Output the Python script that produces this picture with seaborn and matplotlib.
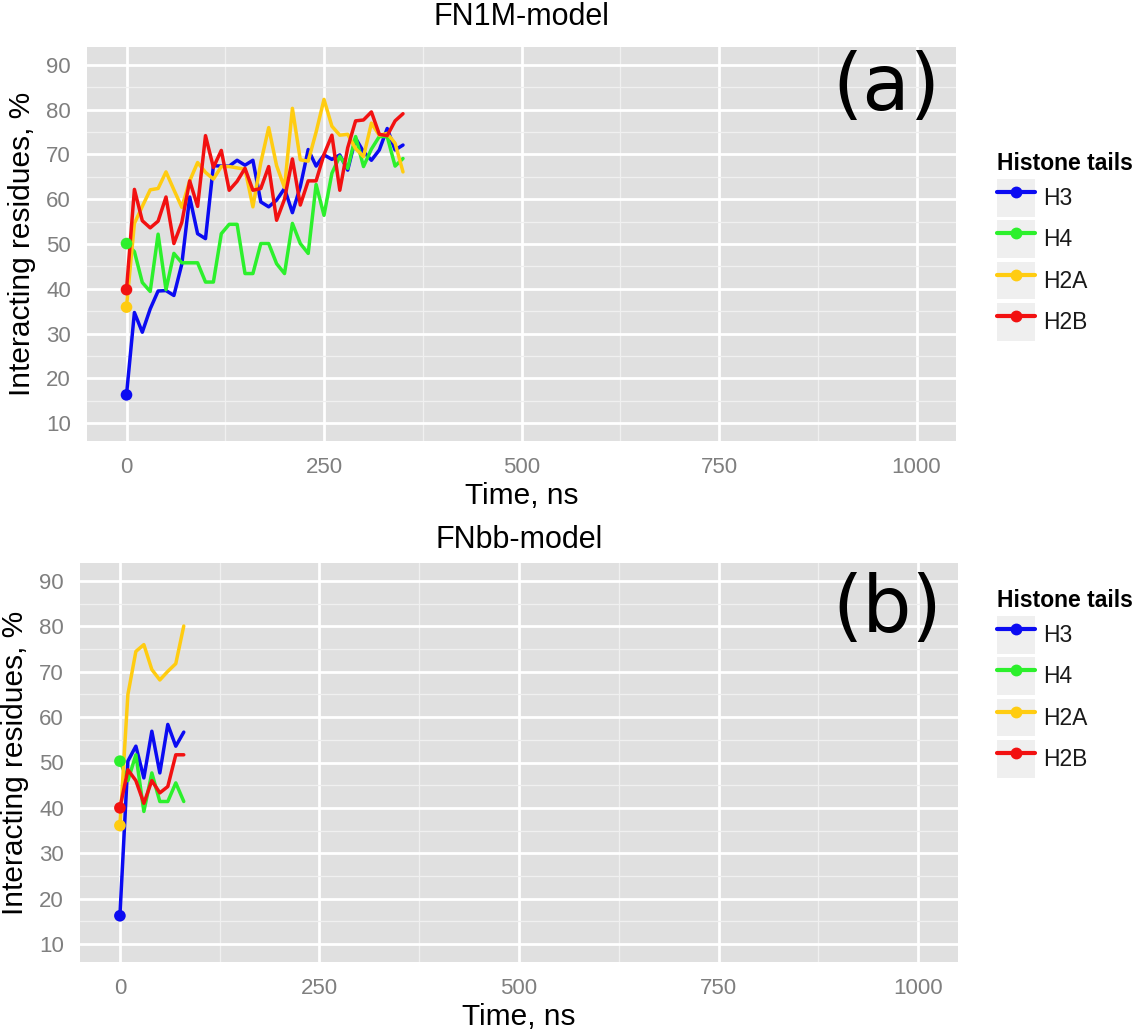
import numpy as np
import pandas as pd
import matplotlib
matplotlib.use("Agg")
import matplotlib.pyplot as plt
import seaborn as sns
from matplotlib.lines import Line2D
from matplotlib.patches import Rectangle
from matplotlib.legend_handler import HandlerLine2D

# ---------------- data ----------------
tails = ["H3", "H4", "H2A", "H2B"]
tail_colors = ["#0B0BF2", "#2CF02C", "#FFCC11", "#F21111"]

time_a = [0, 10, 20, 30, 40, 50, 60, 70, 80, 90, 100, 110, 120, 130, 140, 150, 160, 170,
          180, 190, 200, 210, 220, 230, 240, 250, 260, 270, 280, 290, 300, 310, 320, 330, 340, 350]
h3_a = [16.3, 34.7, 30.3, 35.5, 39.5, 39.6, 38.5, 45.5, 60.5, 52.3, 51.2, 67.5, 67.4, 67.4, 68.7, 67.6,
        68.7, 59.4, 58.3, 59.8, 62.4, 57.0, 62.8, 71.1, 67.4, 69.9, 68.9, 69.9, 66.5, 73.6, 70.6, 68.7,
        71.0, 75.8, 71.0, 72.1]
h4_a = [50.1, 48.3, 41.4, 39.4, 52.2, 39.8, 47.9, 45.8, 45.8, 45.8, 41.5, 41.5, 52.3, 54.4, 54.4, 43.4,
        43.4, 50.1, 50.1, 45.6, 43.4, 54.6, 50.1, 47.9, 63.3, 56.4, 65.8, 69.6, 66.9, 74.0, 67.3, 71.2,
        74.0, 74.0, 67.4, 69.1]
h2a_a = [35.9, 54.6, 58.4, 62.1, 62.4, 66.1, 62.1, 58.2, 64.1, 68.2, 66.0, 64.5, 67.3, 67.3, 67.0, 66.7,
         58.3, 68.2, 76.0, 67.5, 62.6, 80.3, 68.8, 68.5, 75.0, 82.3, 76.3, 74.3, 74.5, 71.3, 69.5, 77.0,
         74.3, 74.7, 72.5, 66.1]
h2b_a = [39.8, 62.2, 55.2, 53.6, 55.1, 60.5, 50.1, 54.8, 64.1, 58.4, 74.2, 67.1, 70.9, 62.0, 64.0, 66.9,
         62.0, 62.4, 67.3, 55.3, 60.0, 69.0, 58.7, 64.1, 64.1, 70.0, 74.3, 62.0, 71.5, 77.5, 77.7, 79.5,
         74.5, 74.2, 77.5, 79.1]

time_b = [0, 10, 20, 30, 40, 50, 60, 70, 80]
h3_b = [16.2, 50.3, 53.6, 46.6, 56.9, 47.7, 58.4, 53.6, 56.7]
h4_b = [50.3, 46.0, 51.7, 39.2, 47.7, 41.4, 41.4, 45.5, 41.4]
h2a_b = [36.1, 65.0, 74.5, 76.0, 70.5, 68.2, 70.1, 71.8, 80.1]
h2b_b = [40.0, 48.4, 46.0, 41.0, 46.0, 43.3, 44.7, 51.7, 51.7]

titles = ["FN1M-model", "FNbb-model"]
tags = ["(a)", "(b)"]
x_ticks = [0, 250, 500, 750, 1000]
x_minor = [125, 375, 625, 875]
y_ticks = [10, 20, 30, 40, 50, 60, 70, 80, 90]
y_minor = [15, 25, 35, 45, 55, 65, 75, 85]
x_label = "Time, ns"
y_label = "Interacting residues, %"
legend_title = "Histone tails"

# ---------------- style ----------------
sns.set_style("darkgrid")
plt.rcParams["font.family"] = ["Liberation Sans", "DejaVu Sans"]
plt.rcParams["text.color"] = "black"
plt.rcParams["axes.labelcolor"] = "black"
pal = dict(zip(tails, tail_colors))

W, H = 1133, 1031
fig = plt.figure(figsize=(W / 100, H / 100), dpi=100)
fig.patch.set_facecolor("white")

ax_a = fig.add_axes([87 / W, 1 - 441 / H, 869 / W, 394 / H])
ax_b = fig.add_axes([80 / W, 1 - 962 / H, 878 / W, 399 / H])


class BoxHandler(HandlerLine2D):
    def create_artists(self, legend, orig_handle, xdescent, ydescent, width, height,
                       fontsize, trans):
        arts = super().create_artists(legend, orig_handle, xdescent, ydescent, width,
                                      height, fontsize, trans)
        rect = Rectangle((-xdescent, -ydescent), width, height, facecolor="#EFEFEF",
                         edgecolor="none", transform=trans)
        return [rect] + list(arts)


def draw(ax, time, series, title, tag, title_y, tag_y):
    df = pd.concat([pd.DataFrame({"time": time, "value": vals, "tail": name})
                    for name, vals in zip(tails, series)], ignore_index=True)
    sns.lineplot(data=df, x="time", y="value", hue="tail", hue_order=tails, palette=pal,
                 linewidth=2.5, legend=False, ax=ax, sort=False, estimator=None)
    first = df[df["time"] == time[0]]
    sns.scatterplot(data=first, x="time", y="value", hue="tail", hue_order=tails,
                    palette=pal, s=70, edgecolor="none", legend=False, ax=ax, zorder=3)
    ax.set_facecolor("#E0E0E0")
    ax.set_xlim(-50, 1050)
    ax.set_ylim(6, 94)
    ax.set_xticks(x_ticks)
    ax.set_yticks(y_ticks)
    ax.set_xticks(x_minor, minor=True)
    ax.set_yticks(y_minor, minor=True)
    ax.grid(which="major", color="white", linewidth=2.0)
    ax.grid(which="minor", color="#F0F0F0", linewidth=0.9)
    ax.set_axisbelow(True)
    for s in ax.spines.values():
        s.set_visible(False)
    ax.tick_params(which="major", length=6.5, width=1.4, color="#555555",
                   labelsize=16, labelcolor="#7F7F7F", pad=5)
    ax.tick_params(which="minor", length=0)
    ax.set_xlabel(x_label, fontsize=21.5, labelpad=3)
    ax.set_ylabel(y_label, fontsize=21.5, labelpad=7)
    ax.text(0.5, title_y, title, transform=ax.transAxes, ha="center", va="center",
            fontsize=22, color="black")
    ax.text(0.982, tag_y, tag, transform=ax.transAxes, ha="right", va="center",
            fontsize=56, family="DejaVu Sans", color="black")


draw(ax_a, time_a, [h3_a, h4_a, h2a_a, h2b_a], titles[0], tags[0], 1.076, 0.895)
draw(ax_b, time_b, [h3_b, h4_b, h2a_b, h2b_b], titles[1], tags[1], 1.058, 0.882)

handles = [Line2D([], [], color=c, linewidth=3.0, marker="o", markersize=7.5) for c in tail_colors]
for ytop in [141 / H, 578 / H]:
    leg = fig.legend(handles, tails, title=legend_title, loc="upper left",
                     bbox_to_anchor=(986 / W, 1 - ytop), frameon=False,
                     fontsize=16.5, title_fontproperties={"weight": "bold", "size": 16.5},
                     handlelength=1.65, handleheight=2.15, labelspacing=0.16,
                     handletextpad=0.35, borderpad=0.0, alignment="left",
                     handler_map={Line2D: BoxHandler()})
    for t in leg.get_texts():
        t.set_color("#1A1A1A")

fig.savefig("out.png", dpi=100)
